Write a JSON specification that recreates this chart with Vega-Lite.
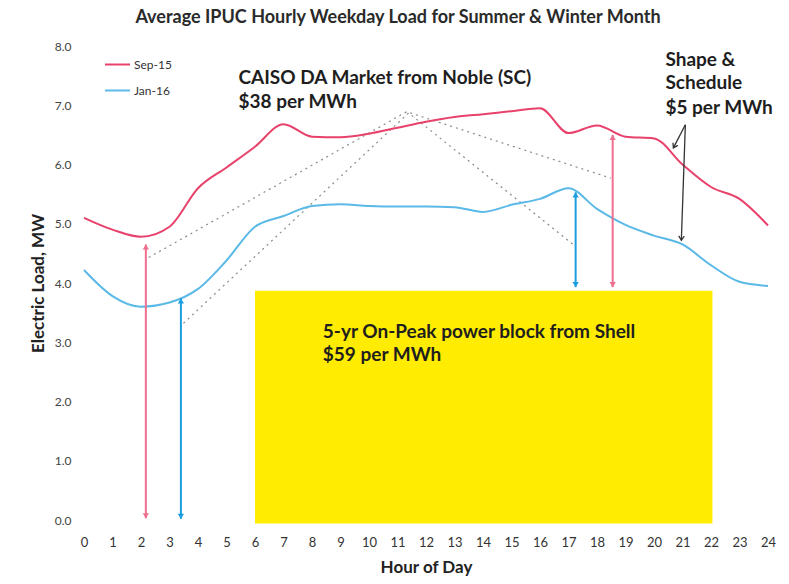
{
  "$schema": "https://vega.github.io/schema/vega-lite/v6.json",
  "width": 684,
  "height": 474,
  "autosize": {"type": "none"},
  "padding": {"left": 84, "top": 46, "right": 21, "bottom": 64},
  "background": "white",
  "config": {"view": {"stroke": null}, "font": "Lato"},
  "title": {
    "text": "Average IPUC Hourly Weekday Load for Summer & Winter Month",
    "fontSize": 18,
    "fontWeight": "bold",
    "color": "#2a2a2a",
    "anchor": "middle",
    "dx": -28,
    "offset": 13
  },
  "datasets": {
    "block": [{"hour": 6, "hour2": 22.05, "load": 3.87, "load2": -0.06}],
    "series": [
      {"series": "Sep-15", "hour": 0, "load": 5.1},
      {"series": "Sep-15", "hour": 1, "load": 4.9},
      {"series": "Sep-15", "hour": 2, "load": 4.78},
      {"series": "Sep-15", "hour": 3, "load": 4.95},
      {"series": "Sep-15", "hour": 4, "load": 5.6},
      {"series": "Sep-15", "hour": 5, "load": 5.95},
      {"series": "Sep-15", "hour": 6, "load": 6.3},
      {"series": "Sep-15", "hour": 7, "load": 6.68},
      {"series": "Sep-15", "hour": 8, "load": 6.47},
      {"series": "Sep-15", "hour": 9, "load": 6.46},
      {"series": "Sep-15", "hour": 10, "load": 6.52},
      {"series": "Sep-15", "hour": 11, "load": 6.62},
      {"series": "Sep-15", "hour": 12, "load": 6.72},
      {"series": "Sep-15", "hour": 13, "load": 6.8},
      {"series": "Sep-15", "hour": 14, "load": 6.85},
      {"series": "Sep-15", "hour": 15, "load": 6.9},
      {"series": "Sep-15", "hour": 16, "load": 6.95},
      {"series": "Sep-15", "hour": 17, "load": 6.53},
      {"series": "Sep-15", "hour": 18, "load": 6.66},
      {"series": "Sep-15", "hour": 19, "load": 6.47},
      {"series": "Sep-15", "hour": 20, "load": 6.44},
      {"series": "Sep-15", "hour": 21, "load": 6.0},
      {"series": "Sep-15", "hour": 22, "load": 5.62},
      {"series": "Sep-15", "hour": 23, "load": 5.42},
      {"series": "Sep-15", "hour": 24, "load": 4.97},
      {"series": "Jan-16", "hour": 0, "load": 4.22},
      {"series": "Jan-16", "hour": 1, "load": 3.78},
      {"series": "Jan-16", "hour": 2, "load": 3.6},
      {"series": "Jan-16", "hour": 3, "load": 3.67},
      {"series": "Jan-16", "hour": 4, "load": 3.9},
      {"series": "Jan-16", "hour": 5, "load": 4.38},
      {"series": "Jan-16", "hour": 6, "load": 4.95},
      {"series": "Jan-16", "hour": 7, "load": 5.13},
      {"series": "Jan-16", "hour": 8, "load": 5.3},
      {"series": "Jan-16", "hour": 9, "load": 5.33},
      {"series": "Jan-16", "hour": 10, "load": 5.3},
      {"series": "Jan-16", "hour": 11, "load": 5.29},
      {"series": "Jan-16", "hour": 12, "load": 5.29},
      {"series": "Jan-16", "hour": 13, "load": 5.28},
      {"series": "Jan-16", "hour": 14, "load": 5.2},
      {"series": "Jan-16", "hour": 15, "load": 5.32},
      {"series": "Jan-16", "hour": 16, "load": 5.42},
      {"series": "Jan-16", "hour": 17, "load": 5.6},
      {"series": "Jan-16", "hour": 18, "load": 5.25},
      {"series": "Jan-16", "hour": 19, "load": 4.98},
      {"series": "Jan-16", "hour": 20, "load": 4.8},
      {"series": "Jan-16", "hour": 21, "load": 4.65},
      {"series": "Jan-16", "hour": 22, "load": 4.3},
      {"series": "Jan-16", "hour": 23, "load": 4.02},
      {"series": "Jan-16", "hour": 24, "load": 3.95}
    ],
    "guides": [
      {"group": "summer", "hour": 2.27, "load": 4.43},
      {"group": "summer", "hour": 11.32, "load": 6.89},
      {"group": "summer", "hour": 18.48, "load": 5.77},
      {"group": "winter", "hour": 3.49, "load": 3.32},
      {"group": "winter", "hour": 11.39, "load": 6.87},
      {"group": "winter", "hour": 17.19, "load": 4.64}
    ],
    "arrows": [
      {"series": "Sep-15", "hour": 2.17, "load": 4.65, "load2": 0.03},
      {"series": "Jan-16", "hour": 3.4, "load": 3.74, "load2": 0.02},
      {"series": "Jan-16", "hour": 17.25, "load": 5.53, "load2": 3.93},
      {"series": "Sep-15", "hour": 18.55, "load": 6.5, "load2": 3.93}
    ],
    "pointers": [
      {"name": "a", "hour": 21.1, "load": 6.67, "hour2": 20.68, "load2": 6.28},
      {"name": "b", "hour": 21.1, "load": 6.67, "hour2": 20.96, "load2": 4.72}
    ],
    "notes": [
      {"hour": 5.42, "load": 7.46, "label": "CAISO DA Market from Noble (SC)"},
      {"hour": 5.42, "load": 7.06, "label": "$38 per MWh"},
      {"hour": 20.4, "load": 7.77, "label": "Shape &"},
      {"hour": 20.4, "load": 7.38, "label": "Schedule"},
      {"hour": 20.4, "load": 6.95, "label": "$5 per MWh"},
      {"hour": 8.38, "load": 3.18, "label": "5-yr On-Peak power block from Shell"},
      {"hour": 8.38, "load": 2.79, "label": "$59 per MWh"}
    ]
  },
  "encoding": {
    "x": {
      "field": "hour",
      "type": "quantitative",
      "scale": {"domain": [0, 24], "nice": false, "zero": false},
      "axis": {
        "title": "Hour of Day",
        "values": [0,1,2,3,4,5,6,7,8,9,10,11,12,13,14,15,16,17,18,19,20,21,22,23,24],
        "grid": false,
        "domain": false,
        "ticks": false,
        "labelPadding": 16,
        "labelFontSize": 13,
        "labelColor": "#333333",
        "labelFlush": false,
        "labelOverlap": false,
        "titleFontSize": 17,
        "titleFontWeight": "bold",
        "titleColor": "#222222",
        "titlePadding": 10
      }
    },
    "y": {
      "field": "load",
      "type": "quantitative",
      "scale": {"domain": [0, 8], "nice": false},
      "axis": {
        "title": "Electric Load, MW",
        "values": [0,1,2,3,4,5,6,7,8],
        "format": ".1f",
        "grid": false,
        "domain": false,
        "ticks": false,
        "labelPadding": 13,
        "labelFontSize": 12,
        "labelColor": "#444444",
        "titleFontSize": 17,
        "titleFontWeight": "bold",
        "titleColor": "#222222",
        "titlePadding": 7
      }
    }
  },
  "layer": [
    {
      "data": {"name": "block"},
      "mark": {"type": "rect", "color": "#ffec00"},
      "encoding": {"x2": {"field": "hour2"}, "y2": {"field": "load2"}}
    },
    {
      "data": {"name": "guides"},
      "mark": {"type": "line", "color": "#8a8a8a", "strokeWidth": 1.2, "strokeDash": [2, 4]},
      "encoding": {"detail": {"field": "group"}}
    },
    {
      "data": {"name": "series"},
      "mark": {"type": "line", "interpolate": "monotone", "strokeWidth": 2},
      "encoding": {
        "color": {
          "field": "series",
          "type": "nominal",
          "scale": {"domain": ["Sep-15", "Jan-16"], "range": ["#e8426c", "#5ab9e6"]},
          "legend": {
            "title": null,
            "orient": "none",
            "legendX": 20,
            "legendY": 5,
            "symbolType": "stroke",
            "symbolSize": 625,
            "symbolStrokeWidth": 2,
            "labelFontSize": 12,
            "labelColor": "#333333",
            "labelOffset": 3,
            "rowPadding": 6
          }
        },
        "strokeWidth": {
          "condition": {"test": "datum.series === 'Sep-15'", "value": 2.2},
          "value": 1.6
        }
      }
    },
    {
      "data": {"name": "arrows"},
      "mark": {"type": "rule", "strokeWidth": 2},
      "encoding": {
        "y2": {"field": "load2"},
        "color": {"condition": {"test": "datum.series === 'Sep-15'", "value": "#ef6f8e"}, "value": "#1c9de0"}
      }
    },
    {
      "data": {"name": "arrows"},
      "mark": {"type": "point", "shape": "M -1 -1.6 L 0 0 L 1 -1.6 Z", "filled": true, "size": 40, "opacity": 1},
      "encoding": {
        "y": {"field": "load2"},
        "color": {"condition": {"test": "datum.series === 'Sep-15'", "value": "#ef6f8e"}, "value": "#1c9de0"}
      }
    },
    {
      "data": {"name": "arrows"},
      "mark": {"type": "point", "shape": "M -1 1.6 L 0 0 L 1 1.6 Z", "filled": true, "size": 40, "opacity": 1},
      "encoding": {
        "color": {"condition": {"test": "datum.series === 'Sep-15'", "value": "#ef6f8e"}, "value": "#1c9de0"}
      }
    },
    {
      "data": {"name": "pointers"},
      "mark": {"type": "rule", "color": "#333333", "strokeWidth": 1.3},
      "encoding": {"x2": {"field": "hour2"}, "y2": {"field": "load2"}}
    },
    {
      "data": {"name": "pointers"},
      "mark": {"type": "point", "shape": "M -1 -1.6 L 0 0 L 1 -1.6", "filled": false, "size": 30, "color": "#333333", "strokeWidth": 1.3, "opacity": 1},
      "encoding": {
        "x": {"field": "hour2"},
        "y": {"field": "load2"},
        "angle": {"condition": {"test": "datum.name === 'a'", "value": 28}, "value": 2}
      }
    },
    {
      "data": {"name": "notes"},
      "mark": {"type": "text", "align": "left", "baseline": "middle", "fontSize": 19, "fontWeight": "bold", "color": "#1e1e1e"},
      "encoding": {"text": {"field": "label"}}
    }
  ]
}
